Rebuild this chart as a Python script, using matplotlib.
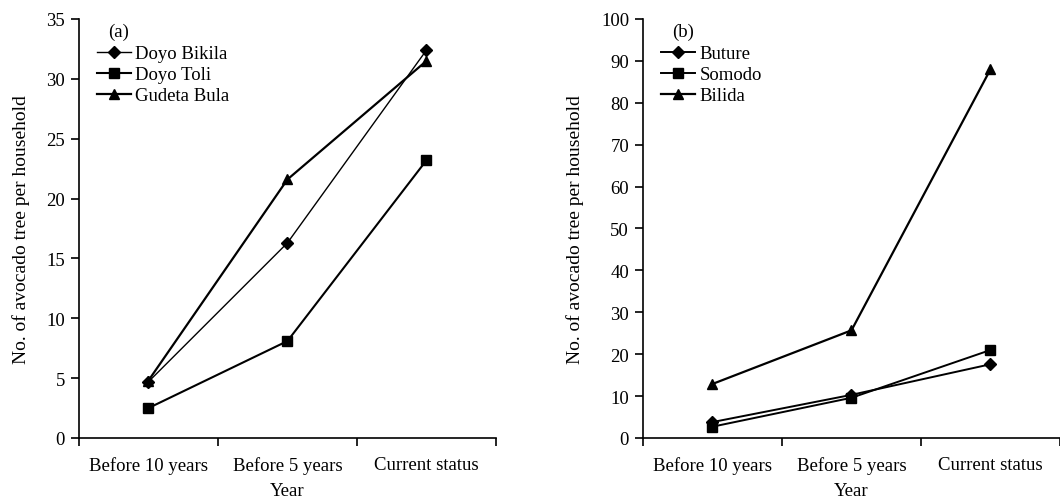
import matplotlib.pyplot as plt
import numpy as np

CATEGORIES = ["Before 10 years", "Before 5 years", "Current status"]

SITES_A = ["Doyo Bikila", "Doyo Toli", "Gudeta Bula"]
VALUES_A = [
    [4.7, 16.3, 32.4],
    [2.5, 8.1, 23.2],
    [4.8, 21.6, 31.5],
]

SITES_B = ["Buture", "Somodo", "Bilida"]
VALUES_B = [
    [3.8, 10.3, 17.6],
    [2.7, 9.6, 21.0],
    [12.9, 25.7, 88.0],
]

MARKERS = ["D", "s", "^"]
MARKER_SIZES = [6, 7, 7.5]
LINE_WIDTHS_A = [1.0, 1.5, 1.6]
LINE_WIDTHS_B = [1.4, 1.4, 1.6]

FS = 13.5


def draw_panel(ax, sites, values, widths, ymax, ystep, tag):
    x = np.arange(len(CATEGORIES)) + 0.5
    for name, vals, marker, ms, lw in zip(sites, values, MARKERS, MARKER_SIZES, widths):
        ax.plot(x, vals, color="black", marker=marker, markersize=ms, linewidth=lw, label=name)
    ax.set_xlim(0, len(CATEGORIES))
    ax.set_ylim(0, ymax)
    ax.set_yticks(np.arange(0, ymax + 1, ystep))
    ax.set_xticks(np.arange(len(CATEGORIES) + 1))
    ax.set_xticklabels([])
    ax.set_xticks(x, minor=True)
    ax.set_xticklabels(CATEGORIES, minor=True)
    ax.tick_params(axis="x", which="minor", length=0, pad=13)
    ax.tick_params(axis="both", which="major", length=6, width=1.2, direction="out", pad=4)
    ax.tick_params(labelsize=FS)
    for side in ("top", "right"):
        ax.spines[side].set_visible(False)
    ax.spines["left"].set_linewidth(1.2)
    ax.spines["bottom"].set_linewidth(1.2)
    ax.set_xlabel("Year", fontsize=FS, labelpad=6)
    ax.set_ylabel("No. of avocado tree per household", fontsize=14, labelpad=12)
    ax.text(0.07, 0.99, tag, transform=ax.transAxes, fontsize=FS, va="top", ha="left")
    ax.legend(
        loc="upper left",
        bbox_to_anchor=(0.025, 0.955),
        frameon=False,
        fontsize=FS,
        handlelength=1.8,
        handletextpad=0.25,
        labelspacing=0.2,
        borderaxespad=0.0,
    )


def main():
    plt.rcParams.update({"font.family": "Liberation Serif", "font.size": FS})
    fig = plt.figure(figsize=(10.6, 5.02), dpi=100)
    ax_a = fig.add_axes([0.0745, 0.1255, 0.3934, 0.8347])
    ax_b = fig.add_axes([0.6066, 0.1255, 0.3934, 0.8347])
    draw_panel(ax_a, SITES_A, VALUES_A, LINE_WIDTHS_A, 35, 5, "(a)")
    draw_panel(ax_b, SITES_B, VALUES_B, LINE_WIDTHS_B, 100, 10, "(b)")
    fig.savefig("out.png", dpi=100)
    plt.close(fig)


if __name__ == "__main__":
    main()
